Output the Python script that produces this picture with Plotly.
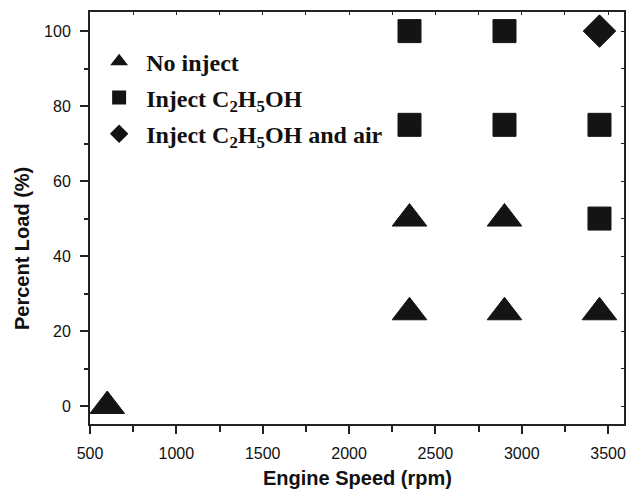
import plotly.graph_objects as go

# Data
speed_no_inject = [600, 2350, 2900, 3450, 2350, 2900]
load_no_inject = [0, 25, 25, 25, 50, 50]
speed_c2h5oh = [2350, 2900, 2350, 2900, 3450, 3450]
load_c2h5oh = [100, 100, 75, 75, 75, 50]
speed_c2h5oh_air = [3450]
load_c2h5oh_air = [100]

names = ["No inject", "Inject C<sub>2</sub>H<sub>5</sub>OH", "Inject C<sub>2</sub>H<sub>5</sub>OH and air"]

x_range = [500, 3592]
y_range = [-4.8, 105.1]
x_ticks = [500, 1000, 1500, 2000, 2500, 3000, 3500]
y_ticks = [0, 20, 40, 60, 80, 100]

ink = "#141414"
axis_col = "#222222"

fig = go.Figure()
fig.add_trace(go.Scatter(x=speed_no_inject, y=load_no_inject, mode="markers", name=names[0],
                         legendgroup="a",
                         marker=dict(symbol="triangle-up", size=30, color=ink, line=dict(width=1, color=ink))))
fig.add_trace(go.Scatter(x=speed_c2h5oh, y=load_c2h5oh, mode="markers", name=names[1],
                         legendgroup="b",
                         marker=dict(symbol="square", size=23, color=ink, line=dict(width=1, color=ink))))
fig.add_trace(go.Scatter(x=speed_c2h5oh_air, y=load_c2h5oh_air, mode="markers", name=names[2],
                         legendgroup="c",
                         marker=dict(symbol="diamond", size=25, color=ink, line=dict(width=1, color=ink))))
# invisible trace to hold the mirrored (top/right) axes
fig.add_trace(go.Scatter(x=[None], y=[None], xaxis="x2", yaxis="y2", showlegend=False, hoverinfo="skip"))

tickfont = dict(family="Arial, Liberation Sans, sans-serif", size=16, color="#111111")

fig.update_layout(
    width=628, height=490,
    margin=dict(l=90, r=2, t=12, b=66),
    paper_bgcolor="white", plot_bgcolor="white",
    showlegend=True,
    legend=dict(x=0.004, y=0.934, xanchor="left", yanchor="top",
                bgcolor="rgba(0,0,0,0)", itemsizing="constant", itemwidth=44,
                tracegroupgap=2,
                font=dict(family="Liberation Serif, Times New Roman, serif", size=24, color="#111111", weight="bold")),
    xaxis=dict(range=x_range, tickvals=x_ticks, ticks="outside", ticklen=8, tickwidth=1.5, tickcolor=axis_col,
               showline=True, linewidth=2, linecolor=axis_col, showgrid=False, zeroline=False,
               tickfont=tickfont, ticklabelstandoff=6,
               minor=dict(dtick=250, tick0=500, ticks="outside", ticklen=6, tickwidth=1.5, tickcolor=axis_col)),
    yaxis=dict(range=y_range, tickvals=y_ticks, ticks="outside", ticklen=8, tickwidth=1.5, tickcolor=axis_col,
               showline=True, linewidth=2, linecolor=axis_col, showgrid=False, zeroline=False,
               tickfont=tickfont, ticklabelstandoff=6,
               minor=dict(dtick=10, tick0=0, ticks="outside", ticklen=4, tickwidth=1.5, tickcolor=axis_col)),
    xaxis2=dict(range=x_range, overlaying="x", side="top", anchor="y2", tickvals=x_ticks, ticks="inside",
                ticklen=3, tickwidth=1, tickcolor=axis_col, showticklabels=False,
                showline=True, linewidth=2, linecolor=axis_col, showgrid=False, zeroline=False,
                minor=dict(dtick=250, tick0=500, ticks="inside", ticklen=3, tickwidth=1, tickcolor=axis_col)),
    yaxis2=dict(range=y_range, overlaying="y", side="right", anchor="x2", tickvals=y_ticks, ticks="inside",
                ticklen=3, tickwidth=1, tickcolor=axis_col, showticklabels=False,
                showline=True, linewidth=2, linecolor=axis_col, showgrid=False, zeroline=False,
                minor=dict(dtick=10, tick0=0, ticks="inside", ticklen=3, tickwidth=1, tickcolor=axis_col)),
    annotations=[
        dict(text="Engine Speed (rpm)", xref="paper", yref="paper", x=0.5, y=-0.131,
             xanchor="center", yanchor="middle", showarrow=False,
             font=dict(family="Arial, Liberation Sans, sans-serif", size=20, color="#111111", weight="bold")),
        dict(text="Percent Load (%)", xref="paper", yref="paper", x=-0.127, y=0.425, textangle=-90,
             xanchor="center", yanchor="middle", showarrow=False,
             font=dict(family="Arial, Liberation Sans, sans-serif", size=20, color="#111111", weight="bold")),
    ],
)

fig.write_html("out.html")
